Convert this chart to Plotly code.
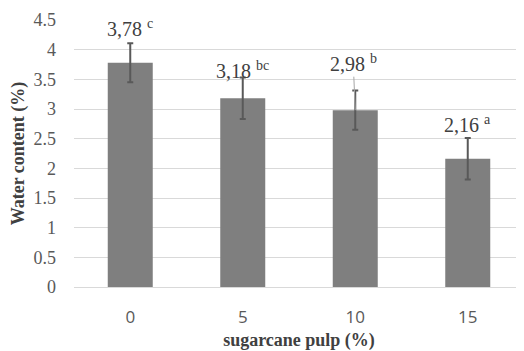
import plotly.graph_objects as go

categories = ["0", "5", "10", "15"]
water = [3.78, 3.18, 2.98, 2.16]
sd = [0.33, 0.35, 0.33, 0.35]
value_labels = ["3,78", "3,18", "2,98", "2,16"]
letters = ["c", "bc", "b", "a"]
y_ticks = [0, 0.5, 1, 1.5, 2, 2.5, 3, 3.5, 4, 4.5]
y_tick_text = ["0", "0.5", "1", "1.5", "2", "2.5", "3", "3.5", "4", "4.5"]

# label placement (pixel shifts above the error-bar top); None -> leader line
label_shift = [15, 8, None, 14]

SERIF = "Liberation Serif"
SANS = "Open Sans"

pos = list(range(len(categories)))

fig = go.Figure()
fig.add_trace(go.Bar(
    x=pos, y=water, width=0.4,
    marker=dict(color="#7f7f7f", line=dict(width=0)),
    error_y=dict(type="data", array=sd, visible=True, color="#595959",
                 thickness=2, width=3),
    showlegend=False,
))

annotations = []
for p, v, e, lab, let, sh in zip(pos, water, sd, value_labels, letters, label_shift):
    txt = f"{lab} <sup>{let}</sup>"
    font = dict(family=SERIF, size=20, color="#404040")
    if sh is None:
        annotations.append(dict(x=p, y=v, xref="x", yref="y", text=txt,
                                showarrow=True, arrowhead=0, arrowwidth=1,
                                arrowcolor="#a6a6a6", ax=-2, ay=-47,
                                standoff=0, font=font))
    else:
        annotations.append(dict(x=p, y=v + e, xref="x", yref="y", text=txt,
                                showarrow=False, yanchor="middle", yshift=sh,
                                font=font))

fig.update_layout(
    width=516, height=343,
    margin=dict(l=66, r=0, t=12, b=64),
    paper_bgcolor="white", plot_bgcolor="white",
    annotations=annotations,
    xaxis=dict(
        range=[-0.5, len(categories) - 0.5],
        tickvals=pos, ticktext=categories,
        showgrid=False, showline=True, linecolor="#d9d9d9", linewidth=1,
        zeroline=False, layer="above traces", ticks="",
        tickfont=dict(family=SANS, size=17, color="#595959"),
        ticklabelstandoff=15,
        title=dict(text="sugarcane pulp (%)", standoff=11,
                   font=dict(family=SERIF, size=18, color="#404040",
                             weight="bold")),
    ),
    yaxis=dict(
        range=[0, 4.5], tickvals=y_ticks, ticktext=y_tick_text,
        showgrid=True, gridcolor="#d9d9d9", gridwidth=1.4,
        zeroline=False, showline=False, ticks="",
        tickfont=dict(family=SERIF, size=18, color="#595959"),
        ticklabelstandoff=17,
        title=dict(text="Water content (%)", standoff=4,
                   font=dict(family=SERIF, size=18, color="#404040",
                             weight="bold")),
    ),
)

fig.write_html("out.html")
